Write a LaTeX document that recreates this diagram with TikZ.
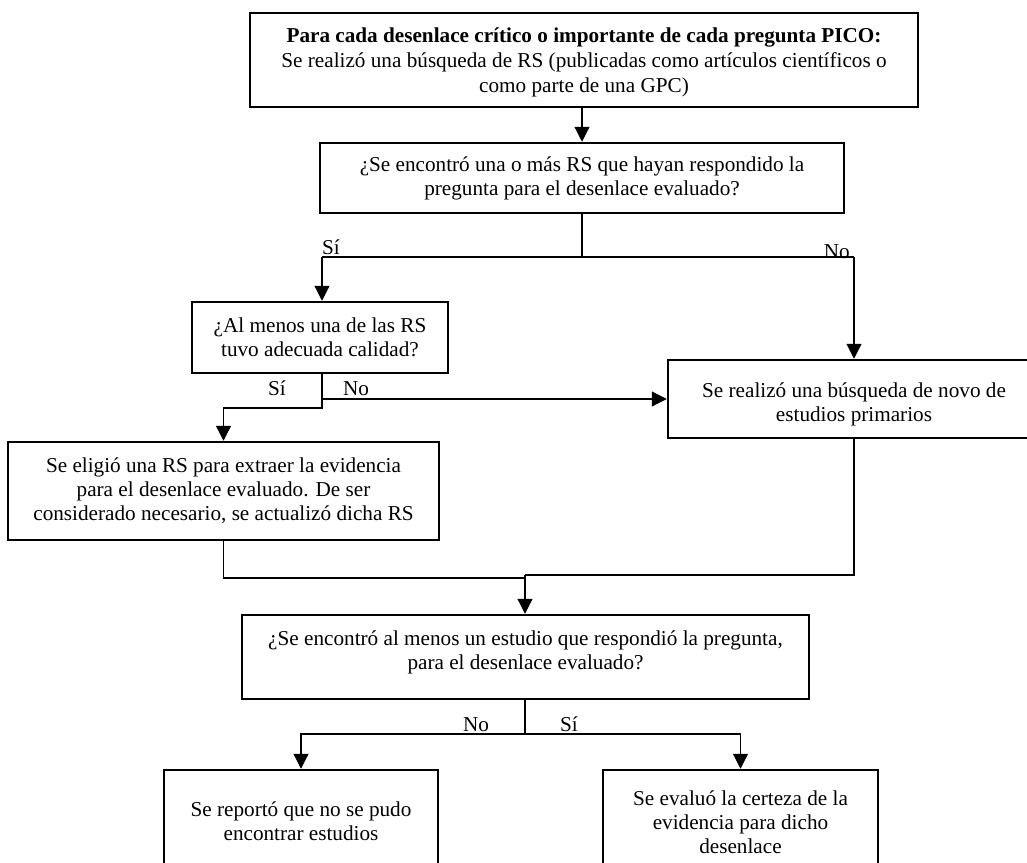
\documentclass[tikz,border=0pt]{standalone}
\usepackage{fontspec}
\setmainfont{Liberation Serif}
\usetikzlibrary{arrows.meta}
\newcommand{\padtop}[1]{\rule{0pt}{#1}}
\newcommand{\padbot}[1]{\rule[-#1]{0pt}{#1}}
\tikzset{
  box/.style={draw, line width=2.5pt, align=center, inner sep=0pt, font=\fontsize{21.2}{24}\selectfont},
  conn/.style={line width=1.2pt},
  arr/.style={conn, -{Triangle[length=15pt,width=15pt]}},
  lab/.style={font=\fontsize{21.2}{24}\selectfont, inner sep=0pt}
}
\begin{document}
\begin{tikzpicture}[x=1pt,y=-1pt]
\useasboundingbox (0,0) rectangle (1027,862);
% boxes
\node[box, font=\fontsize{21.2}{25}\selectfont, minimum width=668pt, minimum height=94pt] (b1) at (584,60)
  {\padtop{19pt}\textbf{Para cada desenlace crítico o importante de cada pregunta PICO:}\\
   Se realizó una búsqueda de RS (publicadas como artículos científicos o\\
   como parte de una GPC)};
\node[box, minimum width=524pt, minimum height=70pt] (b2) at (582,178)
  {¿Se encontró una o más RS que hayan respondido la\\ pregunta para el desenlace evaluado?};
\node[box, minimum width=256pt, minimum height=71pt] (b3) at (320,337.5)
  {¿Al menos una de las RS\\ tuvo adecuada calidad?};
\node[box, minimum width=372pt, minimum height=78pt] (b4) at (854,399)
  {\padtop{24.5pt}Se realizó una búsqueda de novo de\\ estudios primarios};
\node[box, minimum width=431pt, minimum height=98pt] (b5) at (223.5,491)
  {Se eligió una RS para extraer la evidencia\\ para el desenlace evaluado. De ser\\ considerado necesario, se actualizó dicha RS};
\node[box, minimum width=567pt, minimum height=84pt] (b6) at (525.5,657)
  {¿Se encontró al menos un estudio que respondió la pregunta,\\ para el desenlace evaluado?\padbot{13pt}};
\node[box, minimum width=274pt, minimum height=102pt] (b7) at (301,821)
  {Se reportó que no se pudo\\ encontrar estudios};
\node[box, minimum width=275pt, minimum height=104pt] (b8) at (740.5,822)
  {Se evaluó la certeza de la\\ evidencia para dicho\\ desenlace};
% junction coordinates
\coordinate (j1) at (582,257);
\coordinate (jl) at (322,257);
\coordinate (jr) at (854,257);
\coordinate (k1) at (322,408);
\coordinate (kn) at (322,399);
\coordinate (m) at (525,575);
\coordinate (ml) at (525,578);
\coordinate (n) at (525,734);
% connectors
\draw[arr] (b1.south -| j1) -- (b2.north -| j1);
\draw[conn] (b2.south -| j1) -- (j1);
\draw[conn] (jl) -- (jr);
\draw[arr] (jl) -- (b3.north -| jl);
\draw[arr] (jr) -- (b4.north -| jr);
\draw[arr] (b3.south -| k1) -- (k1) -| (b5.north);
\draw[arr] (kn) -- (b4.west |- kn);
\draw[conn] (b5.south) |- (ml);
\draw[conn] (b4.south) |- (m);
\draw[arr] (m) -- (b6.north -| m);
\draw[conn] (b6.south -| n) -- (n);
\draw[arr] (n) -| (b7.north);
\draw[arr] (n) -| (b8.north);
% labels
\node[lab, anchor=base west] (s1) at (322,254) {Sí};
\node[lab, anchor=base east] (n1) at (850,258) {No};
\node[lab, anchor=base] (s2) at (277,395) {Sí};
\node[lab, anchor=base] (n2) at (356,395) {No};
\node[lab, anchor=base] (n3) at (476,731) {No};
\node[lab, anchor=base] (s3) at (569,731) {Sí};
\end{tikzpicture}
\end{document}
